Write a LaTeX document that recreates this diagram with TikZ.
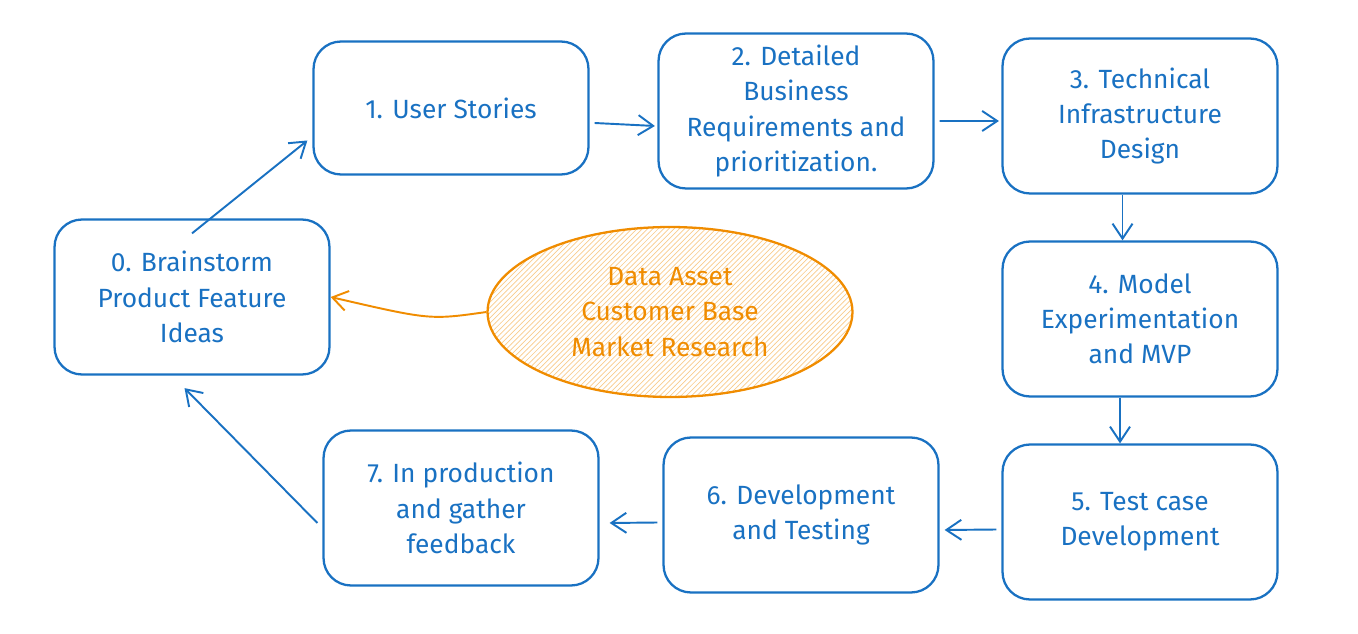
\documentclass[tikz,border=0pt]{standalone}
\usepackage{fontspec}
\setmainfont{Fira Sans}
\usetikzlibrary{patterns,arrows.meta,shapes.geometric}
\definecolor{skyBlue}{HTML}{1971C2}
\definecolor{amber}{HTML}{F08C00}
\tikzset{
  stage/.style={draw=skyBlue,line width=1.3pt,rounded corners=0.55cm,text=skyBlue,
    minimum width=5.5cm,minimum height=3.1cm,align=center,
    font=\fontsize{15}{20}\selectfont},
  flow/.style={draw=skyBlue,line width=1.1pt,-{Straight Barb[length=3mm,width=4mm]}},
}
\begin{document}
\begin{tikzpicture}[x=0.02cm,y=-0.02cm]
    \useasboundingbox (0,0) rectangle (1358,634);

    \node[stage] (idea) at (192,297) {0. Brainstorm\\Product Feature\\Ideas};
    \node[stage,minimum height=2.66cm] (story) at (451,108) {1. User Stories};
    \node[stage] (req) at (796,111) {2. Detailed\\Business\\Requirements and\\prioritization.};
    \node[stage] (infra) at (1140,116) {3. Technical\\Infrastructure\\Design};
    \node[stage] (model) at (1140,319) {4. Model\\Experimentation\\and MVP};
    \node[stage] (test) at (1140,522) {5. Test case\\Development};
    \node[stage] (dev) at (801,515) {6. Development\\and Testing};
    \node[stage] (prod) at (461,508) {7. In production\\and gather\\feedback};

    \node[ellipse,draw=amber,line width=1.3pt,pattern=north east lines,pattern color=amber!45,
      minimum width=7.3cm,minimum height=3.4cm,align=center,text=amber,
      font=\fontsize{15}{20}\selectfont] (base) at (670,312) {Data Asset\\Customer Base\\Market Research};
    \draw[draw=amber,line width=1.1pt,-{Straight Barb[length=3mm,width=4mm]}]
      (base.west) .. controls (430,320) .. (idea.east);

    % cycle of stages
    \draw[flow] ([yshift=-0.3cm]idea.north) -- ([yshift=-0.65cm,xshift=-0.1cm]story.west);
    \draw[flow] ([yshift=-0.3cm,xshift=0.1cm]story.east) -- ([yshift=-0.3cm,xshift=-0.05cm]req.west);
    \draw[flow] ([yshift=-0.2cm,xshift=0.1cm]req.east) -- ([yshift=-0.1cm,xshift=-0.05cm]infra.west);
    \draw[flow] ([xshift=-0.35cm]infra.south) -- ([xshift=-0.35cm]model.north);
    \draw[flow] ([xshift=-0.4cm]model.south) -- ([xshift=-0.4cm]test.north);
    \draw[flow] ([yshift=-0.15cm,xshift=-0.1cm]test.west) -- ([yshift=-0.3cm,xshift=0.1cm]dev.east);
    \draw[flow] ([yshift=-0.15cm,xshift=-0.1cm]dev.west) -- ([yshift=-0.3cm,xshift=0.2cm]prod.east);
    \draw[flow] ([yshift=-0.3cm,xshift=-0.1cm]prod.west) -- ([yshift=-0.25cm,xshift=-0.15cm]idea.south);
\end{tikzpicture}
\end{document}
